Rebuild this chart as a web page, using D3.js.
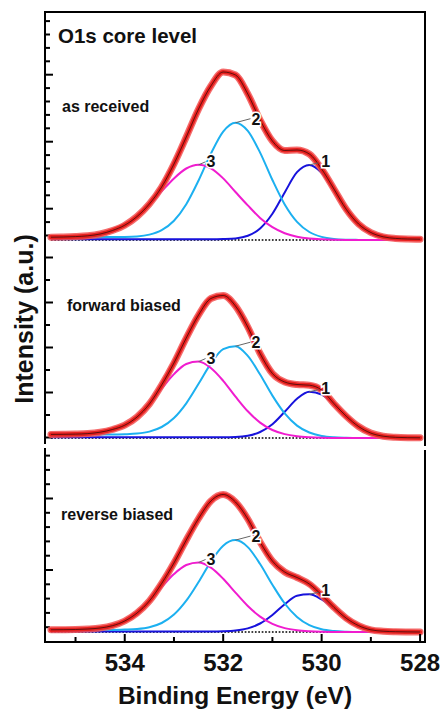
<!DOCTYPE html>
<html>
<head>
<meta charset="utf-8">
<script src="https://cdn.jsdelivr.net/npm/d3@7"></script>
<style>
  html, body { margin: 0; padding: 0; background: #fff; }
  svg { display: block; font-family: Arial, "Liberation Sans", sans-serif; }
</style>
</head>
<body>
<svg id="chart" width="440" height="710"></svg>
<script>
// Binding-energy grid (eV) shared by every spectrum
const energy = [535.5, 535.25, 535.0, 534.75, 534.5, 534.25, 534.0, 533.75, 533.5, 533.25,
                533.0, 532.75, 532.5, 532.25, 532.0, 531.75, 531.5, 531.25, 531.0, 530.75,
                530.5, 530.25, 530.0, 529.75, 529.5, 529.25, 529.0, 528.75, 528.5, 528.25, 528.0];

// As received: measured O1s spectrum and fitted components (a.u.)
const receivedData  = [2.8, 3.0, 3.4, 4.2, 6.0, 9.5, 14.8, 23.5, 36, 53, 76, 103, 131, 154, 168, 165,
                       146, 120, 99, 89.5, 90, 86, 71, 51, 30.7, 16, 7.5, 3.2, 1.6, 1.0, 0.8];
const receivedPeak1 = [0.8, 0.8, 0.8, 0.8, 0.8, 0.8, 0.8, 0.8, 0.8, 0.8, 0.8, 0.8, 0.8, 0.8, 1.0, 1.6,
                       4.2, 11.5, 26.2, 47.6, 67.8, 75.1, 67.2, 49.5, 30.1, 15.1, 6.3, 2.2, 0.6, 0.1, 0];
const receivedPeak2 = [3.0, 3.0, 3.0, 3.0, 3.0, 3.0, 3.1, 3.6, 5.4, 9.9, 19.3, 35.8, 59.5, 86.3, 108.4, 117.3,
                       109.1, 87.4, 60.0, 35.5, 18.1, 8.0, 3.1, 1.0, 0.3, 0.1, 0, 0, 0, 0, 0];
const receivedPeak3 = [3.0, 3.1, 3.4, 4.1, 5.7, 8.8, 14.5, 23.2, 35.3, 48.6, 61.6, 71.5, 75.2, 71.6, 61.6, 48.0,
                       34.6, 22.1, 12.8, 6.8, 3.3, 1.5, 0.7, 0.3, 0.1, 0, 0, 0, 0, 0, 0];

// Forward biased
const forwardData  = [3.6, 3.7, 3.9, 4.4, 5.8, 8.5, 12.8, 21, 34, 53, 75, 100, 123, 139.5, 142.5, 132,
                      111, 84.5, 64.5, 56, 53.5, 52.8, 48, 34.4, 21.8, 11.5, 4.9, 1.8, 0.7, 0.3, 0.2];
const forwardPeak1 = [0.8, 0.8, 0.8, 0.8, 0.8, 0.8, 0.8, 0.8, 0.8, 0.8, 0.8, 0.8, 0.8, 0.8, 0.8, 1.0,
                      2.2, 6.0, 13.8, 26.2, 39.2, 46.3, 43.5, 33.6, 21.3, 11.1, 4.7, 1.6, 0.5, 0.1, 0];
const forwardPeak2 = [3.5, 3.5, 3.5, 3.5, 3.5, 3.4, 3.7, 4.4, 6.4, 11.0, 20.0, 34.7, 54.2, 74.3, 88.8, 91.8,
                      82.1, 63.5, 42.4, 24.6, 12.4, 5.5, 2.1, 0.7, 0.2, 0, 0, 0, 0, 0, 0];
const forwardPeak3 = [3.5, 3.6, 3.7, 4.2, 5.4, 8.0, 13.1, 21.8, 34.3, 49.3, 63.9, 74.0, 76.4, 70.0, 57.2, 41.4,
                      26.7, 15.4, 8.0, 3.9, 1.8, 0.8, 0.3, 0.1, 0, 0, 0, 0, 0, 0, 0];

// Reverse biased
const reverseData  = [2.2, 2.3, 2.5, 3.0, 4.0, 6.3, 11.0, 19.0, 31, 48.5, 69, 92, 113.5, 131, 137.5, 130,
                      113, 90, 71, 60, 54.5, 48, 37, 24.6, 13.8, 6.4, 2.2, 0.8, 0.3, 0.1, 0];
const reversePeak1 = [0.6, 0.6, 0.6, 0.6, 0.6, 0.6, 0.6, 0.6, 0.6, 0.6, 0.6, 0.6, 0.6, 0.6, 0.8, 1.5,
                      3.6, 8.5, 17.0, 27.8, 36.3, 37.7, 32.5, 23.3, 13.8, 6.8, 2.8, 1.0, 0.3, 0.1, 0];
const reversePeak2 = [2.2, 2.2, 2.2, 2.2, 2.2, 2.1, 2.4, 3.0, 4.8, 9.0, 17.4, 31.3, 50.0, 70.4, 86.3, 91.9,
                      84.9, 68.0, 47.3, 28.5, 15.0, 6.8, 2.7, 1.0, 0.3, 0, 0, 0, 0, 0, 0];
const reversePeak3 = [2.2, 2.3, 2.5, 3.0, 4.2, 6.8, 11.8, 19.9, 31.3, 44.8, 57.9, 67.0, 69.5, 64.3, 53.2, 39.4,
                      26.0, 15.4, 8.2, 3.9, 1.8, 0.8, 0.3, 0.1, 0, 0, 0, 0, 0, 0, 0];

const sampleNames = ["as received", "forward biased", "reverse biased"];
const peakNames = ["1", "2", "3"];
const xTickValues = [535, 534, 533, 532, 531, 530, 529, 528];
const xTickLabels = [534, 532, 530, 528];

// ---------------------------------------------------------------
const svg = d3.select("#chart");
const plotL = 45, plotR = 425, plotT = 12, plotB = 642;

const x = d3.scaleLinear().domain([535.62, 527.9]).range([plotL, plotR]);

const colors = { p1: "#1712dc", p2: "#1cb0f0", p3: "#f01ccf", dataEdge: "#f25252", dataCore: "#e8211f" };

// Each spectrum gets its own vertical band
const panels = [
  { name: sampleNames[0], data: receivedData, peaks: [receivedPeak1, receivedPeak2, receivedPeak3],
    box: [244, 12], domain: [-4, 228], tickStart: 5, tickStep: 13.4, majorEvery: 5, majorOffset: 2 },
  { name: sampleNames[1], data: forwardData, peaks: [forwardPeak1, forwardPeak2, forwardPeak3],
    box: [446, 244], domain: [-8, 194], tickStart: 1, tickStep: 22.5, majorEvery: 2, majorOffset: 0 },
  { name: sampleNames[2], data: reverseData, peaks: [reversePeak1, reversePeak2, reversePeak3],
    box: [642, 448], domain: [-10, 184], tickStart: 5.3, tickStep: 14.3, majorEvery: 5, majorOffset: 4 }
];

const lineFor = y => d3.line()
  .x((d, i) => x(energy[i]))
  .y(d => y(d))
  .curve(d3.curveMonotoneX);

const peakColors = [colors.p1, colors.p2, colors.p3];
// leader / label offsets from each component maximum (px)
const labelOffsets = [
  { lx: 9, ly: -2, tx: 12, ty: 2 },
  { lx: 15, ly: -4, tx: 16, ty: 2 },
  { lx: 7, ly: -3, tx: 8, ty: 2 }
];

panels.forEach((p) => {
  const y = d3.scaleLinear().domain(p.domain).range(p.box);
  const line = lineFor(y);
  const g = svg.append("g");

  // left-axis ticks (pointing inward)
  const allTicks = [];
  for (let v = p.tickStart, k = 0; v < p.domain[1]; v += p.tickStep, k++) {
    allTicks.push({ v, major: k >= p.majorOffset && (k - p.majorOffset) % p.majorEvery === 0 });
  }
  const minor = allTicks.filter(t => !t.major).map(t => t.v);
  const major = allTicks.filter(t => t.major).map(t => t.v);
  [[minor, 5], [major, 8]].forEach(([vals, size]) => {
    const ax = g.append("g").attr("transform", `translate(${plotL},0)`)
      .call(d3.axisRight(y).tickValues(vals).tickSize(size).tickFormat(""));
    ax.select(".domain").remove();
    ax.selectAll("line").attr("stroke", "#000").attr("stroke-width", 2);
  });

  // dotted zero background
  g.append("line")
    .attr("x1", x(energy[0])).attr("x2", x(energy[energy.length - 1]))
    .attr("y1", y(0)).attr("y2", y(0))
    .attr("stroke", "#000").attr("stroke-width", 1.7)
    .attr("stroke-dasharray", "1.7,1.7");

  // fitted components
  p.peaks.forEach((arr, k) => {
    g.append("path").datum(arr)
      .attr("d", line)
      .attr("fill", "none")
      .attr("stroke", peakColors[k])
      .attr("stroke-width", 2);
  });

  // measured spectrum (thick red markers) and envelope fit
  g.append("path").datum(p.data).attr("d", line)
    .attr("fill", "none").attr("stroke", colors.dataEdge).attr("stroke-width", 7)
    .attr("stroke-linecap", "round").attr("stroke-opacity", 0.85);
  g.append("path").datum(p.data).attr("d", line)
    .attr("fill", "none").attr("stroke", colors.dataCore).attr("stroke-width", 4.2)
    .attr("stroke-linecap", "round");
  g.append("path").datum(p.data).attr("d", line)
    .attr("fill", "none").attr("stroke", "#000").attr("stroke-width", 0.8).attr("stroke-opacity", 0.75);

  // peak labels with leader lines
  p.peaks.forEach((arr, k) => {
    const iMax = d3.maxIndex(arr);
    const px = x(energy[iMax]), py = y(arr[iMax]);
    const o = labelOffsets[k];
    g.append("line")
      .attr("x1", px).attr("y1", py)
      .attr("x2", px + o.lx).attr("y2", py + o.ly)
      .attr("stroke", "#666").attr("stroke-width", 1);
    g.append("text")
      .attr("x", px + o.tx).attr("y", py + o.ty)
      .attr("font-size", 16).attr("font-weight", "bold")
      .attr("fill", "#111")
      .attr("stroke", "#fff").attr("stroke-width", 3).attr("paint-order", "stroke")
      .text(peakNames[k]);
  });
});

// sample names
const nameSpots = [[62, 112], [67, 311], [61, 520]];
panels.forEach((p, i) => {
  svg.append("text").attr("x", nameSpots[i][0]).attr("y", nameSpots[i][1])
    .attr("font-size", 16).attr("font-weight", "bold").attr("fill", "#111")
    .text(p.name);
});

svg.append("text").attr("x", 58).attr("y", 43)
  .attr("font-size", 20.5).attr("font-weight", "bold").attr("fill", "#111")
  .text("O1s core level");

// frame
const frame = svg.append("g").attr("stroke", "#000").attr("stroke-width", 2).attr("fill", "none");
frame.append("line").attr("x1", plotL - 1).attr("x2", plotR + 1).attr("y1", plotT).attr("y2", plotT);
frame.append("line").attr("x1", plotL - 1).attr("x2", plotR + 1).attr("y1", plotB).attr("y2", plotB);
frame.append("line").attr("x1", plotL).attr("x2", plotL).attr("y1", plotT).attr("y2", 444);
frame.append("line").attr("x1", plotL).attr("x2", plotL).attr("y1", 448).attr("y2", plotB);
frame.append("line").attr("x1", plotR).attr("x2", plotR).attr("y1", plotT).attr("y2", 446);
frame.append("line").attr("x1", plotR).attr("x2", plotR).attr("y1", 450).attr("y2", plotB);

// bottom energy axis, ticks pointing inward
const xAxis = svg.append("g").attr("transform", `translate(0,${plotB})`);
xTickValues.forEach(v => {
  const major = xTickLabels.includes(v);
  xAxis.append("line").attr("x1", x(v)).attr("x2", x(v))
    .attr("y1", 0).attr("y2", major ? -8 : -5)
    .attr("stroke", "#000").attr("stroke-width", 2);
});
xAxis.selectAll("text.tl").data(xTickLabels).enter().append("text")
  .attr("class", "tl")
  .attr("x", d => x(d)).attr("y", 29)
  .attr("text-anchor", "middle").attr("font-size", 24).attr("font-weight", "bold").attr("fill", "#111")
  .text(d => d);

svg.append("text")
  .attr("x", (plotL + plotR) / 2).attr("y", 704)
  .attr("text-anchor", "middle").attr("font-size", 24.5).attr("font-weight", "bold").attr("fill", "#111")
  .text("Binding Energy (eV)");

svg.append("text")
  .attr("transform", "translate(33,319) rotate(-90)")
  .attr("text-anchor", "middle").attr("font-size", 25).attr("font-weight", "bold").attr("fill", "#111")
  .text("Intensity (a.u.)");
</script>
</body>
</html>
